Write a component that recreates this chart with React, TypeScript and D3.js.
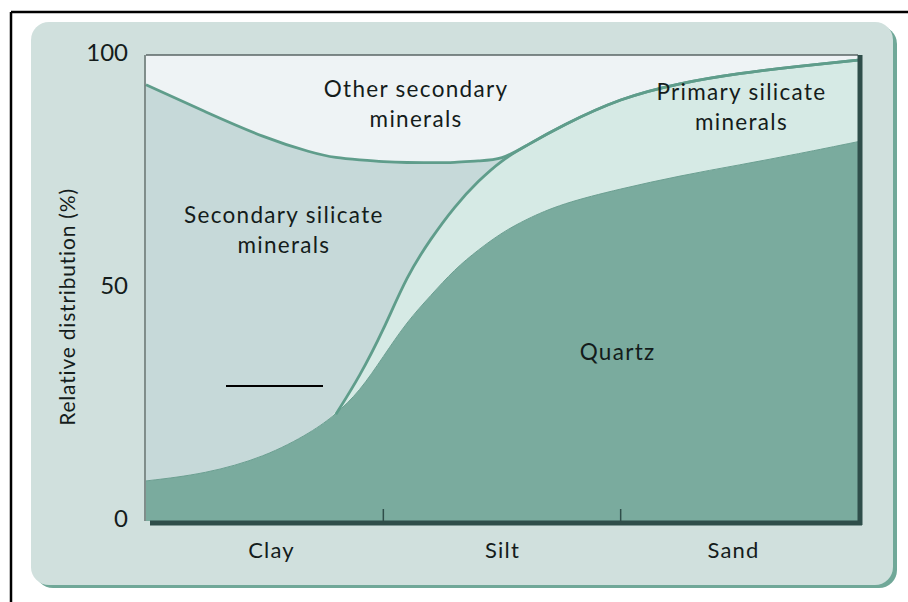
import React from 'react';
import {
    select,
    scaleLinear,
    scalePoint,
    area,
    line,
    stack,
    stackOrderNone,
    curveBasis,
    axisLeft,
    axisBottom,
} from 'd3';

// position along the grain size axis: 0-1 clay, 1-2 silt, 2-3 sand
const positions = [0, 0.25, 0.5, 0.7, 0.8, 0.9, 1.0, 1.1, 1.2, 1.3, 1.4, 1.5, 1.6, 1.75, 2.0, 2.25, 2.5, 2.75, 3.0];
// relative distribution (%) of each mineral group
const quartz = [8.6, 10.1, 13.7, 19.1, 22.9, 27.8, 35.3, 42.8, 48.4, 54, 58.2, 61.9, 64.7, 68.1, 71.3, 74.1, 76.4, 78.8, 81.4];
const primarySilicate = [0, 0, 0, 0, 0, 3.2, 5.6, 9.9, 12.2, 13.5, 14.8, 15.6, 15.8, 16.7, 19.5, 19.9, 19.7, 18.8, 17.5];
const secondarySilicate = [85, 77.7, 68.5, 59.9, 55, 46.5, 36.2, 24.2, 16.3, 9.4, 4.3, 0, 0, 0, 0, 0, 0, 0, 0];
const otherSecondary = [6.4, 12.2, 17.8, 21, 22.1, 22.5, 22.9, 23.1, 23.1, 23.1, 22.7, 22.5, 19.5, 15.2, 9.2, 6, 3.9, 2.4, 1.1];

const sizeClasses = ['Clay', 'Silt', 'Sand'];
const yTicks = [0, 50, 100];
const xTicks = [1, 2];

interface Row {
    pos: number;
    quartz: number;
    primary: number;
    secondary: number;
    other: number;
}

const keys = ['quartz', 'primary', 'secondary', 'other'];
const colors = {
    quartz: '#7aab9e',
    primary: '#d6eae5',
    secondary: '#c6d9d9',
    other: '#eef3f5',
};

const dims = {
    width: 908,
    height: 602,
    left: 146,
    right: 858,
    top: 55,
    bottom: 521,
};

const font = 'Lato, "Open Sans", sans-serif';
const ink = '#141c1b';
const edge = '#5f9d8b';
const axisDark = '#2f4e4a';

const App: React.FC = () => {
    const ref = React.useRef<SVGSVGElement>(null);

    const init = () => {
        const svg = select(ref.current);
        svg.selectAll('*').remove();

        const rows: Row[] = positions.map((pos, i) => ({
            pos,
            quartz: quartz[i],
            primary: primarySilicate[i],
            secondary: secondarySilicate[i],
            other: otherSecondary[i],
        }));
        const layers = stack<Row>().keys(keys).order(stackOrderNone)(rows);

        const x = scaleLinear().domain([0, 3]).range([dims.left, dims.right]);
        const y = scaleLinear().domain([0, 100]).range([dims.bottom, dims.top]);

        // outer frame (open box)
        svg.append('line').attr('x1', 11).attr('x2', 908).attr('y1', 12).attr('y2', 12)
            .attr('stroke', '#000').attr('stroke-width', 2.5);
        svg.append('line').attr('x1', 11).attr('x2', 11).attr('y1', 12).attr('y2', 602)
            .attr('stroke', '#000').attr('stroke-width', 2.5);

        // card
        svg.append('rect').attr('x', 35).attr('y', 26).attr('width', 862).attr('height', 562)
            .attr('rx', 18).attr('fill', '#70a898');
        svg.append('rect').attr('x', 31).attr('y', 22).attr('width', 862).attr('height', 563)
            .attr('rx', 18).attr('fill', '#d0e0dd');

        // stacked areas
        const areaGen = area<any>()
            .x(d => x(d.data.pos))
            .y0(d => y(d[0]))
            .y1(d => y(d[1]))
            .curve(curveBasis);

        svg.append('g')
            .selectAll('path')
            .data(layers)
            .join('path')
            .attr('fill', l => colors[l.key])
            .attr('d', l => areaGen(l));

        // boundary lines
        const topLine = line<any>()
            .x(d => x(d.data.pos))
            .y(d => y(d[1]))
            .curve(curveBasis);

        svg.append('path')
            .attr('d', topLine(layers[0]))
            .attr('fill', 'none').attr('stroke', '#6b9f91').attr('stroke-width', 1);
        svg.append('path')
            .attr('d', topLine(layers[1].filter((_, i) => positions[i] >= 0.8)))
            .attr('fill', 'none').attr('stroke', edge).attr('stroke-width', 2.8);
        svg.append('path')
            .attr('d', topLine(layers[2]))
            .attr('fill', 'none').attr('stroke', edge).attr('stroke-width', 2.8);

        // plot frame
        svg.append('line').attr('x1', dims.left).attr('x2', dims.right).attr('y1', dims.top).attr('y2', dims.top)
            .attr('stroke', '#5a6664').attr('stroke-width', 1.3);
        svg.append('line').attr('x1', dims.left - 1).attr('x2', dims.left - 1).attr('y1', dims.top).attr('y2', dims.bottom)
            .attr('stroke', '#4a5654').attr('stroke-width', 1.2);
        svg.append('line').attr('x1', dims.right + 2).attr('x2', dims.right + 2).attr('y1', dims.top).attr('y2', dims.bottom + 4)
            .attr('stroke', axisDark).attr('stroke-width', 5);
        svg.append('line').attr('x1', dims.left + 4).attr('x2', dims.right + 4).attr('y1', dims.bottom + 2).attr('y2', dims.bottom + 2)
            .attr('stroke', axisDark).attr('stroke-width', 5);

        svg.append('g')
            .selectAll('line')
            .data(xTicks)
            .join('line')
            .attr('x1', d => x(d)).attr('x2', d => x(d))
            .attr('y1', dims.bottom).attr('y2', dims.bottom - 12)
            .attr('stroke', axisDark).attr('stroke-width', 1.5);

        // y axis labels
        const yAxisGroup = svg.append('g')
            .attr('transform', `translate(${dims.left - 18}, 0)`)
            .call(axisLeft(y).tickValues(yTicks).tickSize(0).tickPadding(0));
        yAxisGroup.select('.domain').remove();
        yAxisGroup.selectAll('text')
            .attr('dy', '0.22em')
            .attr('font-family', font)
            .attr('font-size', 24)
            .attr('fill', ink);

        // x axis labels
        const xLabels = scalePoint().domain(sizeClasses).range([271, 733]);
        const xAxisGroup = svg.append('g')
            .attr('transform', `translate(0, ${dims.bottom + 13})`)
            .call(axisBottom(xLabels).tickSize(0).tickPadding(8));
        xAxisGroup.select('.domain').remove();
        xAxisGroup.selectAll('text')
            .attr('font-family', font)
            .attr('font-size', 22)
            .attr('letter-spacing', 1.2)
            .attr('fill', ink);

        svg.append('text')
            .attr('transform', `translate(75, 307) rotate(-90)`)
            .attr('text-anchor', 'middle')
            .attr('font-family', font)
            .attr('font-size', 21)
            .attr('letter-spacing', 0.8)
            .attr('fill', ink)
            .text('Relative distribution (%)');

        // region labels
        const labels = [
            { lines: ['Other secondary', 'minerals'], px: 1.138, py: 91 },
            { lines: ['Primary silicate', 'minerals'], px: 2.509, py: 90.3 },
            { lines: ['Secondary silicate', 'minerals'], px: 0.581, py: 63.9 },
            { lines: ['Quartz'], px: 1.987, py: 34.5 },
        ];
        labels.forEach(l => {
            const t = svg.append('text')
                .attr('text-anchor', 'middle')
                .attr('font-family', font)
                .attr('font-size', 22.5)
                .attr('letter-spacing', 1.3)
                .attr('fill', ink);
            l.lines.forEach((s, i) => {
                t.append('tspan')
                    .attr('x', x(l.px))
                    .attr('y', y(l.py) + i * 30)
                    .text(s);
            });
        });

        // stray pen mark in the source figure
        svg.append('line').attr('x1', 226).attr('x2', 323).attr('y1', 386).attr('y2', 386)
            .attr('stroke', '#000').attr('stroke-width', 2);
    };

    React.useEffect(() => {
        init();
    }, []);

    return (
        <svg
            ref={ref}
            width={dims.width}
            height={dims.height}
            style={{ position: 'absolute', left: 0, top: 0 }}
        />
    );
};

export default App;
